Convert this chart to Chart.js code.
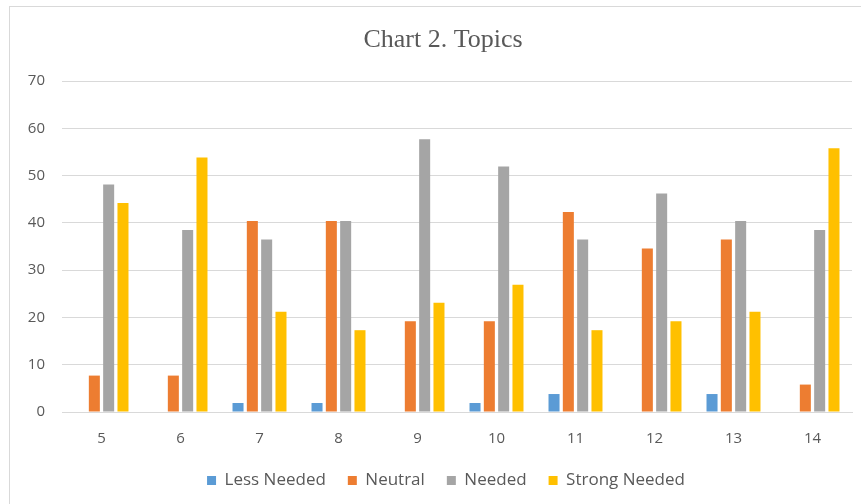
<!DOCTYPE html>
<html>
<head>
<meta charset="utf-8">
<script src="https://cdn.jsdelivr.net/npm/chart.js@4/dist/chart.umd.min.js"></script>
<style>
  html, body { margin: 0; padding: 0; background: #fff; overflow: hidden; }
  #wrap { position: relative; width: 861px; height: 504px; overflow: hidden; }
  #frame { position: absolute; left: 9px; top: 6px; width: 900px; height: 600px;
           border: 1px solid #d9d9d9; box-sizing: border-box; pointer-events: none; }
  canvas { position: absolute; left: 0; top: 0; }
</style>
</head>
<body>
<div id="wrap">
  <canvas id="chart" width="861" height="499"></canvas>
  <div id="frame"></div>
</div>
<script>
// Topic numbers along the x axis
const topics = ['5', '6', '7', '8', '9', '10', '11', '12', '13', '14'];

// Share of answers (%) per rating
const lessNeeded   = [0,    0,    1.9,  1.9,  0,    1.9,  3.8,  0,    3.8,  0];
const neutral      = [7.7,  7.7,  40.4, 40.4, 19.2, 19.2, 42.3, 34.6, 36.5, 5.8];
const needed       = [48.1, 38.5, 36.5, 40.4, 57.7, 51.9, 36.5, 46.2, 40.4, 38.5];
const strongNeeded = [44.2, 53.8, 21.2, 17.3, 23.1, 26.9, 17.3, 19.2, 21.2, 55.8];

const yTicks = [0, 10, 20, 30, 40, 50, 60, 70];
const chartTitle = 'Chart 2. Topics';

const textColor = '#595959';
const gridColor = '#d9d9d9';
const sansFont = "'Open Sans', 'Noto Sans', sans-serif";

function series(label, data, color) {
  return {
    label, data,
    backgroundColor: color,
    borderWidth: 0,
    categoryPercentage: 0.725,
    barPercentage: 0.77
  };
}

// Title drawn centred over the whole frame, a little right of the canvas centre
const titlePlugin = {
  id: 'frameTitle',
  afterDraw(chart) {
    const ctx = chart.ctx;
    ctx.save();
    ctx.font = "26px 'Liberation Serif', 'Times New Roman', serif";
    ctx.fillStyle = textColor;
    ctx.textAlign = 'center';
    ctx.textBaseline = 'middle';
    ctx.fillText(chartTitle, 443, 40);
    ctx.restore();
  }
};

// Centre the legend row on the same line as the title
const legendShift = {
  id: 'legendShift',
  afterLayout(chart) {
    const lg = chart.legend;
    if (!lg) return;
    const currentCentre = (lg.left + lg.right) / 2;
    const dx = 446 - currentCentre;
    lg.left += dx;
    lg.right += dx;
  }
};

new Chart(document.getElementById('chart'), {
  type: 'bar',
  data: {
    labels: topics,
    datasets: [
      series('Less Needed', lessNeeded, '#5B9BD5'),
      series('Neutral', neutral, '#ED7D31'),
      series('Needed', needed, '#A5A5A5'),
      series('Strong Needed', strongNeeded, '#FFC000')
    ]
  },
  plugins: [titlePlugin, legendShift],
  options: {
    responsive: false,
    animation: false,
    devicePixelRatio: 1,
    layout: { padding: { left: 0, right: 9, top: 81, bottom: 0 } },
    plugins: {
      title: { display: false },
      legend: {
        position: 'bottom',
        labels: {
          color: textColor,
          font: { family: sansFont, size: 17 },
          boxWidth: 9,
          boxHeight: 9,
          padding: 22
        }
      },
      tooltip: { enabled: false }
    },
    scales: {
      x: {
        afterFit: (axis) => { axis.height = 38; },
        grid: { display: false, drawTicks: false },
        border: { color: gridColor, width: 1 },
        ticks: { color: textColor, font: { family: sansFont, size: 15 }, padding: 18 }
      },
      y: {
        min: 0,
        max: 70,
        afterBuildTicks: (axis) => { axis.ticks = yTicks.map(v => ({ value: v })); },
        afterFit: (axis) => { axis.width = 62; },
        grid: { color: gridColor, lineWidth: 1, drawTicks: false },
        border: { display: false },
        ticks: { color: textColor, font: { family: sansFont, size: 15 }, padding: 17 }
      }
    }
  }
});
</script>
</body>
</html>
